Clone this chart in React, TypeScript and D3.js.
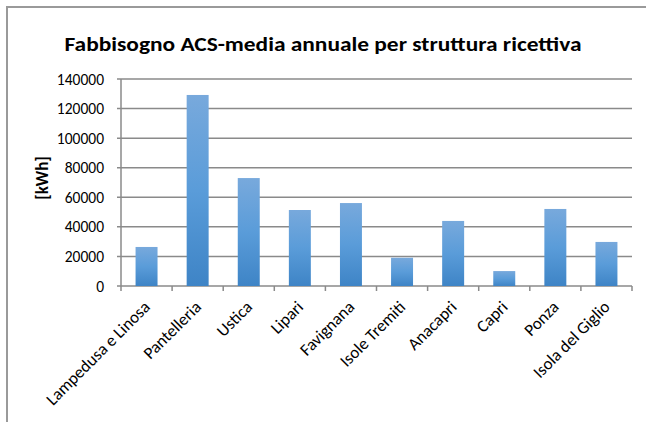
import React from "react";
import * as d3 from "d3";

const categories = ["Lampedusa e Linosa", "Pantelleria", "Ustica", "Lipari", "Favignana", "Isole Tremiti", "Anacapri", "Capri", "Ponza", "Isola del Giglio"];
const values = [26400, 129200, 73000, 51400, 56100, 19100, 44000, 10100, 52100, 29800];
const yTicks = [0, 20000, 40000, 60000, 80000, 100000, 120000, 140000];
const title = "Fabbisogno ACS-media annuale per struttura ricettiva";
const yLabel = "[kWh]";

export default function App() {
  const W = 646, H = 422;
  const left = 121, right = 632, top = 79, bottom = 286;
  const x = d3.scaleBand<string>().domain(categories).range([left, right]).paddingInner(0.57).paddingOuter(0.285);
  const xb = d3.scaleBand<string>().domain(categories).range([left, right]);
  const y = d3.scaleLinear().domain([0, 140000]).range([bottom, top]);
  const font = "Carlito, Calibri, Lato, 'Open Sans', sans-serif";
  return (
    <svg width={W} height={H} style={{ position: "absolute", left: 0, top: 0, background: "#fff" }} fontFamily={font}>
      <defs>
        <linearGradient id="bg" x1="0" y1="0" x2="0" y2="1">
          <stop offset="0" stopColor="#78a9dc" />
          <stop offset="0.5" stopColor="#5a9cd9" />
          <stop offset="1" stopColor="#3e84c6" />
        </linearGradient>
      </defs>
      <rect x={0} y={0} width={W} height={H} fill="#fff" />
      <path d={`M7,${H} L7,7 L${W},7`} fill="none" stroke="#9a9a9a" strokeWidth={2} />
      <text x={323} y={51} textAnchor="middle" fontSize={21} fontWeight="bold" fill="#000" textLength={517} lengthAdjust="spacingAndGlyphs">{title}</text>
      {yTicks.map((t) => (
        <g key={t}>
          <line x1={left - 4} x2={right} y1={y(t)} y2={y(t)} stroke="#8a8a8a" strokeWidth={1.5} />
          <text x={104} y={y(t)} dy="0.36em" textAnchor="end" fontSize={15.5} fill="#000">{t}</text>
        </g>
      ))}
      <line x1={left} x2={left} y1={top} y2={bottom} stroke="#8a8a8a" strokeWidth={1.5} />
      {categories.map((c) => (
        <line key={"t" + c} x1={xb(c)!} x2={xb(c)!} y1={bottom} y2={bottom + 5} stroke="#8a8a8a" strokeWidth={1.5} />
      ))}
      <line x1={right} x2={right} y1={bottom} y2={bottom + 5} stroke="#8a8a8a" strokeWidth={1.5} />
      {categories.map((c, i) => (
        <rect key={c} x={x(c)!} width={x.bandwidth()} y={y(values[i])} height={bottom - y(values[i])} fill="url(#bg)" />
      ))}
      {categories.map((c) => {
        const cx = xb(c)! + xb.bandwidth() / 2 + 4.5;
        const cy = bottom + 22;
        return (
          <text key={"l" + c} transform={`translate(${cx},${cy}) rotate(-45)`} textAnchor="end" fontSize={17} fill="#000">{c}</text>
        );
      })}
      <text transform={`translate(48,178) rotate(-90)`} textAnchor="middle" fontSize={17} fontWeight="bold" fill="#000">{yLabel}</text>
    </svg>
  );
}
